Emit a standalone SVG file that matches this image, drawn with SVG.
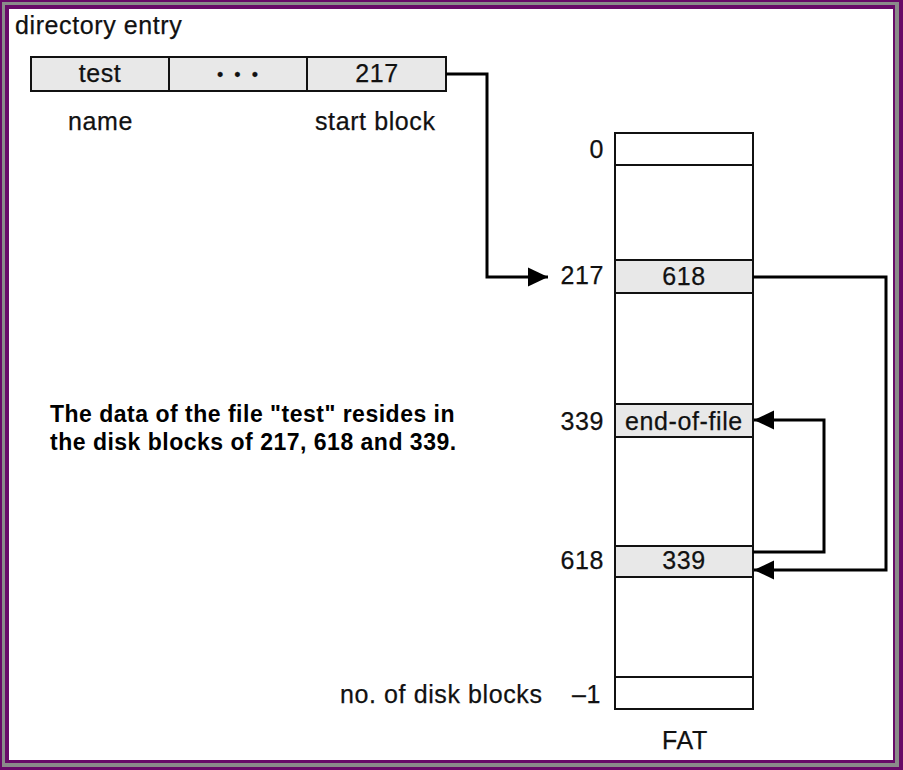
<svg xmlns="http://www.w3.org/2000/svg" width="903" height="770" viewBox="0 0 903 770">
<style>
  .t { font-family: "Liberation Sans", Arial, sans-serif; font-size: 25px; letter-spacing: 0.6px; fill: #111; stroke: #111; stroke-width: 0.25px; }
  .m { text-anchor: middle; }
  .e { text-anchor: end; }
  .b { font-family: "Liberation Sans", Arial, sans-serif; font-size: 23px; font-weight: bold; letter-spacing: 0.5px; fill: #000; }
  .cell { fill: #e8e8e8; stroke: #111; stroke-width: 2; }
  .empty { fill: #fff; stroke: #111; stroke-width: 2; }
  .conn { fill: none; stroke: #000; stroke-width: 3; }
</style>
<defs>
  <marker id="ah" markerUnits="userSpaceOnUse" markerWidth="22" markerHeight="22" viewBox="0 0 22 22" refX="20" refY="11" orient="auto">
    <path d="M0,1.5 L20,11 L0,20.5 Z" fill="#000"/>
  </marker>
</defs>
<g id="frame">
  <rect x="0" y="0" width="903" height="770" fill="#680a68"/>
  <rect x="2" y="2" width="897" height="765" fill="#8a8a8a"/>
  <rect x="5" y="5" width="890" height="758" fill="#680a68"/>
  <rect x="9" y="9" width="884" height="751" fill="#ffffff"/>
</g>
<g id="directory-entry">
  <text class="t" x="15" y="34">directory entry</text>
  <rect class="cell" x="31" y="57" width="138" height="34"/>
  <rect class="cell" x="169" y="57" width="138" height="34"/>
  <rect class="cell" x="307" y="57" width="139" height="34"/>
  <text class="t m" x="100" y="82">test</text>
  <text class="t m" x="239" y="81" style="font-size:18px;letter-spacing:3px">• • •</text>
  <text class="t m" x="377" y="82">217</text>
  <text class="t" x="68" y="130">name</text>
  <text class="t" x="315" y="130">start block</text>
</g>
<g id="fat">
  <rect class="empty" x="615" y="133" width="138" height="576"/>
  <rect class="empty" x="615" y="133" width="138" height="32"/>
  <rect class="cell" x="615" y="260" width="138" height="33"/>
  <rect class="cell" x="615" y="404" width="138" height="33"/>
  <rect class="cell" x="615" y="546" width="138" height="31"/>
  <rect class="empty" x="615" y="677" width="138" height="32"/>
  <text class="t m" x="684" y="285">618</text>
  <text class="t m" x="684" y="430">end-of-file</text>
  <text class="t m" x="684" y="569">339</text>
  <text class="t m" x="685" y="749">FAT</text>
</g>
<g id="fat-labels">
  <text class="t e" x="604" y="158">0</text>
  <text class="t e" x="604" y="284">217</text>
  <text class="t e" x="604" y="430">339</text>
  <text class="t e" x="604" y="569">618</text>
  <text class="t e" x="601" y="703">–1</text>
  <text class="t" x="340" y="703">no. of disk blocks</text>
</g>
<g id="note">
  <text class="b" x="50" y="422">The data of the file "test" resides in</text>
  <text class="b" x="50" y="450">the disk blocks of 217, 618 and 339.</text>
</g>
<g id="connectors">
  <path class="conn" d="M446,74 H487 V277 H548" marker-end="url(#ah)"/>
  <path class="conn" d="M753,277 H886 V570 H754" marker-end="url(#ah)"/>
  <path class="conn" d="M753,552 H824 V420 H754" marker-end="url(#ah)"/>
</g>
</svg>
